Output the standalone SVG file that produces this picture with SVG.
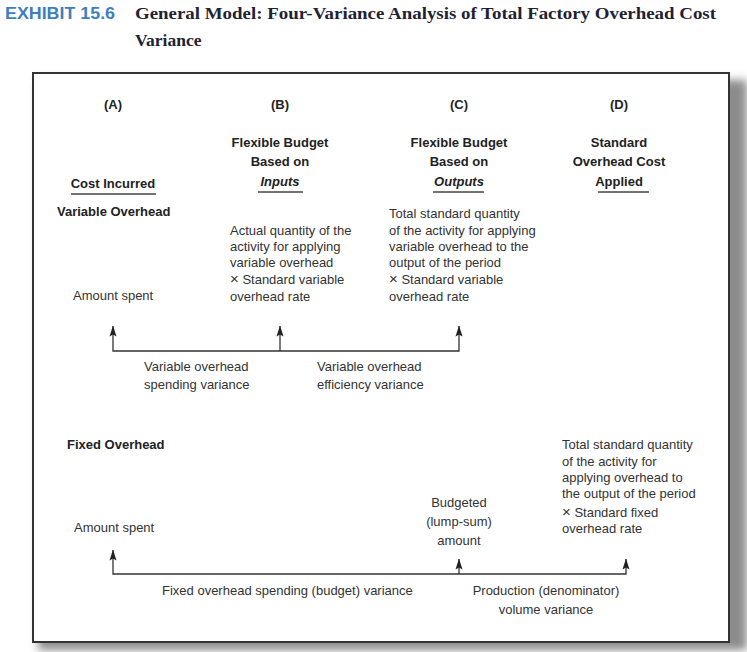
<svg xmlns="http://www.w3.org/2000/svg" width="747" height="652" viewBox="0 0 747 652">
<style>
.h{font-family:"Liberation Sans",Arial,sans-serif;font-size:13px;font-weight:bold;fill:#222}
.hc{font-family:"Liberation Sans",Arial,sans-serif;font-size:13px;font-weight:bold;fill:#222;text-anchor:middle}
.t{font-family:"Liberation Sans",Arial,sans-serif;font-size:13px;fill:#333}
.tc{font-family:"Liberation Sans",Arial,sans-serif;font-size:13px;fill:#333;text-anchor:middle}
.x{font-size:15px}
.ul{stroke:#444;stroke-width:1.5}
.ln{stroke:#333;stroke-width:1.3;fill:none}
</style>
<defs>
<marker id="ah" viewBox="0 0 11 8" refX="10.5" refY="4" markerWidth="11" markerHeight="8" markerUnits="userSpaceOnUse" orient="auto-start-reverse">
<path d="M11 4 L0 0.5 L2 4 L0 7.5 Z" fill="#222"/>
</marker>
<filter id="sh" x="-5%" y="-5%" width="110%" height="110%">
<feGaussianBlur stdDeviation="4"/>
</filter>
</defs>
<rect width="747" height="652" fill="#fff"/>
<g id="title">
<text x="5" y="19" font-family="Liberation Sans,Arial,sans-serif" font-size="16" font-weight="bold" fill="#3d7ebf" textLength="110" lengthAdjust="spacingAndGlyphs">EXHIBIT 15.6</text>
<text x="135" y="19" font-family="Liberation Serif,Times New Roman,serif" font-size="17.5" font-weight="bold" fill="#1f2233" textLength="581" lengthAdjust="spacingAndGlyphs">General Model: Four-Variance Analysis of Total Factory Overhead Cost</text>
<text x="135" y="46" font-family="Liberation Serif,Times New Roman,serif" font-size="17.5" font-weight="bold" fill="#1f2233">Variance</text>
</g>
<g id="frame">
<rect x="38" y="80" width="709" height="570" fill="#8c8c8c" filter="url(#sh)"/>
<rect x="33" y="73" width="696" height="569" fill="#fff" stroke="#333" stroke-width="2"/>
</g>
<g id="colA">
<text class="hc" x="113" y="109">(A)</text>
<text class="hc" x="113" y="188">Cost Incurred</text>
<line class="ul" x1="71" y1="194" x2="156" y2="194"/>
<text class="h" x="57" y="216">Variable Overhead</text>
<text class="t" x="73" y="300">Amount spent</text>
</g>
<g id="colB">
<text class="hc" x="280" y="109">(B)</text>
<text class="hc" x="280" y="147">Flexible Budget</text>
<text class="hc" x="280" y="166">Based on</text>
<text class="hc" x="280" y="186" font-style="italic">Inputs</text>
<line class="ul" x1="258" y1="192" x2="303" y2="192"/>
<text class="t" x="230" y="234.5">Actual quantity of the</text>
<text class="t" x="230" y="251">activity for applying</text>
<text class="t" x="230" y="267">variable overhead</text>
<text class="t" x="230" y="284"><tspan class="x">×</tspan> Standard variable</text>
<text class="t" x="230" y="300.5">overhead rate</text>
</g>
<g id="colC">
<text class="hc" x="459" y="109">(C)</text>
<text class="hc" x="459" y="147">Flexible Budget</text>
<text class="hc" x="459" y="166">Based on</text>
<text class="hc" x="459" y="186" font-style="italic">Outputs</text>
<line class="ul" x1="433" y1="192" x2="484" y2="192"/>
<text class="t" x="389" y="218">Total standard quantity</text>
<text class="t" x="389" y="234.5">of the activity for applying</text>
<text class="t" x="389" y="251">variable overhead to the</text>
<text class="t" x="389" y="267">output of the period</text>
<text class="t" x="389" y="284"><tspan class="x">×</tspan> Standard variable</text>
<text class="t" x="389" y="300.5">overhead rate</text>
</g>
<g id="colD">
<text class="hc" x="619" y="109">(D)</text>
<text class="hc" x="619" y="147">Standard</text>
<text class="hc" x="619" y="166">Overhead Cost</text>
<text class="hc" x="619" y="186">Applied</text>
<line class="ul" x1="598" y1="192" x2="649" y2="192"/>
</g>
<g id="varLabels">
<text class="t" x="144" y="371">Variable overhead</text>
<text class="t" x="144" y="389">spending variance</text>
<text class="t" x="317" y="371">Variable overhead</text>
<text class="t" x="317" y="389">efficiency variance</text>
</g>
<g id="fixedA">
<text class="h" x="67" y="449">Fixed Overhead</text>
<text class="t" x="74" y="532">Amount spent</text>
</g>
<g id="fixedC">
<text class="tc" x="459" y="507">Budgeted</text>
<text class="tc" x="459" y="526">(lump-sum)</text>
<text class="tc" x="459" y="545">amount</text>
</g>
<g id="fixedD">
<text class="t" x="562" y="449">Total standard quantity</text>
<text class="t" x="562" y="466">of the activity for</text>
<text class="t" x="562" y="482">applying overhead to</text>
<text class="t" x="562" y="498">the output of the period</text>
<text class="t" x="562" y="517"><tspan class="x">×</tspan> Standard fixed</text>
<text class="t" x="562" y="533">overhead rate</text>
</g>
<g id="fixedLabels">
<text class="t" x="162" y="595">Fixed overhead spending (budget) variance</text>
<text class="tc" x="546" y="595">Production (denominator)</text>
<text class="tc" x="546" y="614">volume variance</text>
</g>
<g id="connectors">
<path class="ln" d="M113 326 V351 H459 V326" marker-start="url(#ah)" marker-end="url(#ah)"/>
<path class="ln" d="M280 351 V326" marker-end="url(#ah)"/>
<path class="ln" d="M113 550 V574 H626 V559" marker-start="url(#ah)" marker-end="url(#ah)"/>
<path class="ln" d="M459 574 V559" marker-end="url(#ah)"/>
</g>
</svg>
